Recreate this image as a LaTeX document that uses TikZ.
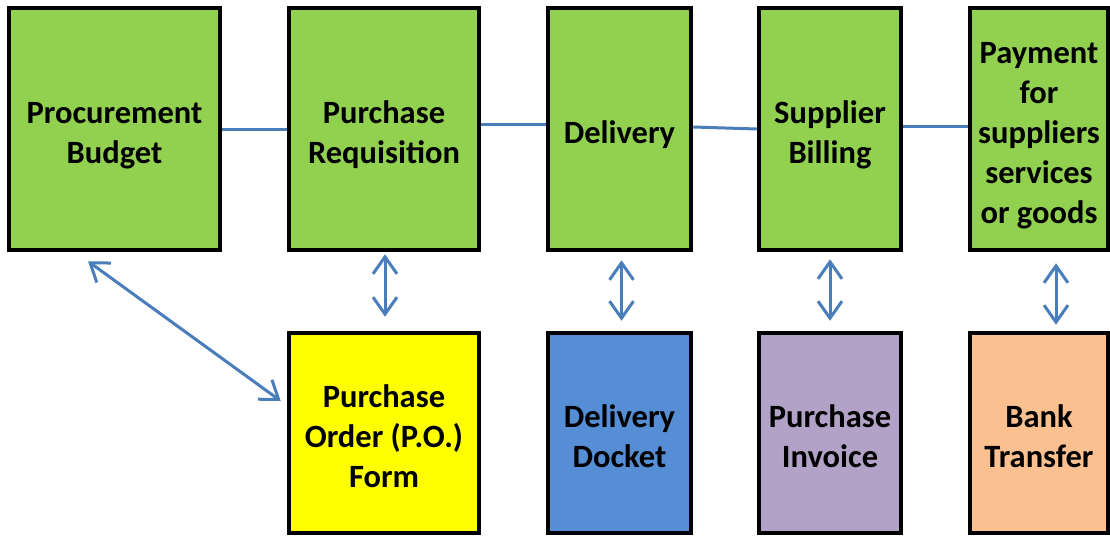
\documentclass[tikz,border=0pt]{standalone}
\usepackage{fontspec}
\setmainfont{Carlito}
\usetikzlibrary{positioning,arrows.meta}
\definecolor{boxgreen}{HTML}{92D050}
\definecolor{boxyellow}{HTML}{FFFF00}
\definecolor{boxblue}{HTML}{558ED5}
\definecolor{boxpurple}{HTML}{B3A2C7}
\definecolor{boxorange}{HTML}{FAC090}
\definecolor{linkblue}{HTML}{4A7EBB}
\newcommand{\boxstrut}{\rule{0pt}{28pt}}
\tikzset{font=\fontsize{32.5}{40}\selectfont\bfseries}

\begin{document}
\begin{tikzpicture}[x=1pt, y=-1pt]
	\tikzstyle{every node}=[align=center, inner sep=0pt, draw=black, line width=4.5pt, minimum height=242pt, text depth=0pt]
	\tikzstyle{link}=[draw=linkblue, line width=3pt]
	\tikzstyle{both}=[link, {Straight Barb[length=17pt, width=24pt, line width=3pt]}-{Straight Barb[length=17pt, width=24pt, line width=3pt]}]
	\useasboundingbox (0, 0) rectangle (1110, 536);

	\node[fill=boxgreen, minimum width=211pt] (budget) at (114.5, 129) {\boxstrut Procurement\\Budget};
	\node[fill=boxgreen, minimum width=190pt] (req) at (384, 129) {\boxstrut Purchase\\Requisition};
	\node[fill=boxgreen, minimum width=143pt] (deliv) at (619.5, 129) {\boxstrut Delivery};
	\node[fill=boxgreen, minimum width=142pt] (bill) at (830, 129) {\boxstrut Supplier\\Billing};
	\node[fill=boxgreen, minimum width=138pt] (pay) at (1039, 129) {\boxstrut Payment\\for\\suppliers\\services\\or goods};

	\node[fill=boxyellow, minimum width=190pt, minimum height=200pt] (po) at (384, 433) {\boxstrut Purchase\\Order (P.O.)\\Form};
	\node[fill=boxblue, minimum width=143pt, minimum height=200pt] (docket) at (619.5, 433) {\boxstrut Delivery\\Docket};
	\node[fill=boxpurple, minimum width=142pt, minimum height=200pt] (invoice) at (830, 433) {\boxstrut Purchase\\Invoice};
	\node[fill=boxorange, minimum width=138pt, minimum height=200pt] (bank) at (1039, 433) {\boxstrut Bank\\Transfer};

	\draw [link] (budget.east) to (req.west);
	\draw [link] ([yshift=5pt]req.east) to ([yshift=5pt]deliv.west);
	\draw [link] ([yshift=2pt]deliv.east) to (bill.west);
	\draw [link] ([yshift=3pt]bill.east) to ([yshift=3pt]pay.west);

	\draw [both, shorten <=2pt, shorten >=14pt] ([xshift=1pt]req.south) to ([xshift=1pt]po.north);
	\draw [both, shorten <=8pt, shorten >=10pt] ([xshift=2pt]deliv.south) to ([xshift=2pt]docket.north);
	\draw [both, shorten <=7pt, shorten >=10pt] (bill.south) to (invoice.north);
	\draw [both, shorten <=11pt, shorten >=6pt] ([xshift=17pt]pay.south) to ([xshift=17pt]bank.north);
	\draw [both] ([xshift=-26.5pt, yshift=-9pt]budget.south) to ([xshift=-6pt, yshift=32pt]po.west);
\end{tikzpicture}
\end{document}
